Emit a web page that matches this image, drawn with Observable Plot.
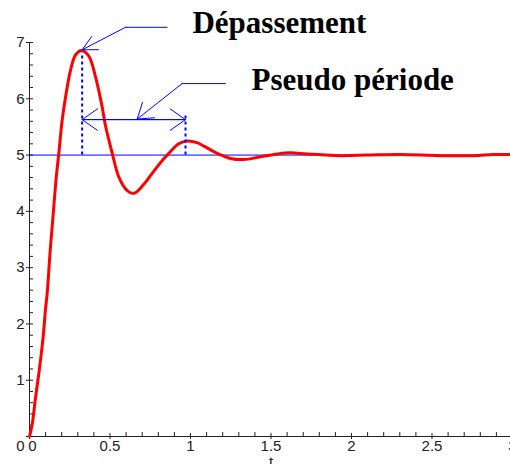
<!DOCTYPE html>
<html>
<head>
<meta charset="utf-8">
<script src="https://cdn.jsdelivr.net/npm/d3@7"></script>
<script src="https://cdn.jsdelivr.net/npm/@observablehq/plot@0.6"></script>
<style>
  html, body { margin: 0; padding: 0; background: #fff; }
  #chart svg { display: block; }
</style>
</head>
<body>
<div id="chart"></div>
<script>
// Step response
const tValues = [0, 0.017, 0.037, 0.058, 0.083, 0.10, 0.11, 0.13, 0.15, 0.166, 0.182, 0.203, 0.224, 0.255, 0.286, 0.323, 0.368, 0.41, 0.451, 0.472, 0.514, 0.555, 0.607, 0.648, 0.71, 0.75, 0.793, 0.83, 0.865, 0.927, 0.98, 1.04, 1.083, 1.166, 1.248, 1.33, 1.435, 1.54, 1.62, 1.725, 1.93, 2.1, 2.3, 2.55, 2.76, 2.88, 3.0];
const yValues = [0, 0.22, 0.68, 1.12, 1.72, 2.28, 2.55, 3.36, 4.05, 4.6, 5.03, 5.62, 6.03, 6.51, 6.78, 6.86, 6.76, 6.39, 5.86, 5.52, 5.03, 4.61, 4.37, 4.32, 4.48, 4.63, 4.79, 4.92, 5.03, 5.2, 5.25, 5.22, 5.16, 5.03, 4.94, 4.92, 4.97, 5.02, 5.04, 5.02, 4.99, 5.0, 5.01, 4.99, 4.99, 5.01, 5.01];

// Reference level
const finalValue = [5];

// Ticks
const xMajor = [0, 0.5, 1, 1.5, 2, 2.5, 3];
const xTickLabels = ["0", "0.5", "1", "1.5", "2", "2.5", "3"];
const xMinor = [0.1, 0.2, 0.3, 0.4, 0.6, 0.7, 0.8, 0.9, 1.1, 1.2, 1.3, 1.4, 1.6, 1.7, 1.8, 1.9, 2.1, 2.2, 2.3, 2.4, 2.6, 2.7, 2.8, 2.9];
const yMajor = [0, 1, 2, 3, 4, 5, 6, 7];
const yTickLabels = ["0", "1", "2", "3", "4", "5", "6", "7"];
const yMinor = [0.2, 0.4, 0.6, 0.8, 1.2, 1.4, 1.6, 1.8, 2.2, 2.4, 2.6, 2.8, 3.2, 3.4, 3.6, 3.8, 4.2, 4.4, 4.6, 4.8, 5.2, 5.4, 5.6, 5.8, 6.2, 6.4, 6.6, 6.8];
const xAxisLabel = "t";

// Annotations (data coordinates)
const peakMarker = [{t: 0.327, y1: 5, y2: 6.82}];
const periodMarker = [{t: 0.969, y1: 5, y2: 5.72}];
const periodArrow = [{t1: 0.327, t2: 0.969, y: 5.63}];
const depLeader = [{t: 0.855, y: 7.27}, {t: 0.596, y: 7.27}];
const depArrow = [{t1: 0.596, y1: 7.27, t2: 0.327, y2: 6.87}];
const ppLeader = [{t: 1.217, y: 6.27}, {t: 0.948, y: 6.27}];
const ppArrow = [{t1: 0.948, y1: 6.27, t2: 0.669, y2: 5.64}];
const labels = [
  {text: "Dépassement", t: 1.012, y: 7.34},
  {text: "Pseudo période", t: 1.379, y: 6.33}
];

const curve = tValues.map((t, i) => ({t, y: yValues[i]}));
const axisColor = "#222";
const blue = "#0000ff";

const chart = Plot.plot({
  width: 510,
  height: 464,
  marginLeft: 29,
  marginRight: -2,
  marginTop: 42,
  marginBottom: 28,
  style: {fontFamily: "'Liberation Sans', Arial, sans-serif", fontSize: "15px", background: "#fff", overflow: "visible"},
  x: {domain: [0, 3], axis: null},
  y: {domain: [0, 7], axis: null},
  marks: [
    // axes lines
    Plot.ruleY([0], {stroke: axisColor}),
    Plot.ruleX([0], {y1: 0, y2: 7, stroke: axisColor}),
    // x ticks
    Plot.axisX({ticks: xMinor, tickSize: 4, dy: -4, text: null, label: null, stroke: axisColor}),
    Plot.axisX({ticks: xMajor, tickSize: 6, dy: -3, text: null, label: null, stroke: axisColor}),
    Plot.axisX({ticks: xMajor.slice(1), tickSize: 0, tickPadding: 4, label: null, fill: "#222",
      tickFormat: d => xTickLabels[xMajor.indexOf(d)]}),
    Plot.text([xTickLabels[0]], {x: xMajor[0], y: 0, dx: 3, dy: 10, fill: "#222", fontSize: 15}),
    // y ticks
    Plot.axisY({ticks: yMinor, tickSize: 4, dx: 4, text: null, label: null, stroke: axisColor}),
    Plot.axisY({ticks: yMajor, tickSize: 7, dx: 4, text: null, label: null, stroke: axisColor}),
    Plot.axisY({ticks: yMajor.slice(1), tickSize: 0, tickPadding: 5, label: null, fill: "#222",
      tickFormat: d => yTickLabels[yMajor.indexOf(d)]}),
    Plot.text([yTickLabels[0]], {x: 0, y: yMajor[0], dx: -5, dy: 10, textAnchor: "end", fill: "#222", fontSize: 15}),
    Plot.text([xAxisLabel], {x: 1.5, y: 0, dy: 26, fill: "#222", fontSize: 15}),
    // reference line
    Plot.ruleY(finalValue, {stroke: blue, strokeWidth: 1}),
    // response curve
    Plot.line(curve, {x: "t", y: "y", stroke: "#ff0000", strokeWidth: 3, curve: "catmull-rom"}),
    // dotted markers
    Plot.ruleX(peakMarker, {x: "t", y1: "y1", y2: "y2", stroke: blue, strokeWidth: 2, strokeDasharray: "3,3"}),
    Plot.ruleX(periodMarker, {x: "t", y1: "y1", y2: "y2", stroke: blue, strokeWidth: 2, strokeDasharray: "3,3"}),
    // double arrow
    Plot.arrow(periodArrow, {x1: "t1", x2: "t2", y1: "y", y2: "y", stroke: blue, strokeWidth: 1, headLength: 28, headAngle: 70}),
    Plot.arrow(periodArrow, {x1: "t2", x2: "t1", y1: "y", y2: "y", stroke: blue, strokeWidth: 1, headLength: 28, headAngle: 70}),
    // leaders
    Plot.line(depLeader, {x: "t", y: "y", stroke: blue, strokeWidth: 1}),
    Plot.arrow(depArrow, {x1: "t1", y1: "y1", x2: "t2", y2: "y2", stroke: blue, strokeWidth: 1, headLength: 26, headAngle: 54}),
    Plot.line(ppLeader, {x: "t", y: "y", stroke: blue, strokeWidth: 1}),
    Plot.arrow(ppArrow, {x1: "t1", y1: "y1", x2: "t2", y2: "y2", stroke: blue, strokeWidth: 1, headLength: 26, headAngle: 68}),
    // annotation text
    Plot.text(labels, {x: "t", y: "y", text: "text", textAnchor: "start", fontFamily: "'Liberation Serif', 'Times New Roman', serif", fontWeight: "bold", fontSize: 31, fill: "#000"})
  ]
});
document.getElementById("chart").appendChild(chart);
</script>
</body>
</html>
